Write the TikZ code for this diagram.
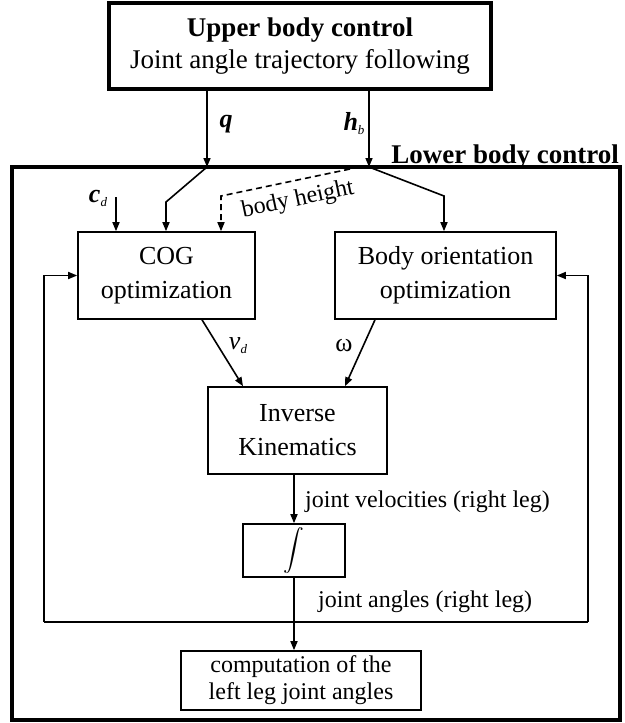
\documentclass[tikz,border=0pt]{standalone}
\usepackage{amsmath}
\usepackage{fontspec}
\setmainfont{Liberation Serif}
\usetikzlibrary{arrows.meta,calc}
\begin{document}
\begin{tikzpicture}[x=1pt,y=-1pt,
  box/.style={draw, line width=1.6pt, inner sep=0pt, align=center, font=\fontsize{26}{34}\selectfont},
  arr/.style={line width=1.6pt, -{Triangle[length=9pt,width=7pt]}},
  ln/.style={line width=1.6pt},
  lbl/.style={inner sep=0pt, font=\fontsize{24}{28}\selectfont},
  sym/.style={inner sep=0pt, font=\fontsize{26}{28}\selectfont},
]
\useasboundingbox (0,0) rectangle (624,723);
% frames
\node[draw, line width=4pt, minimum width=608pt, minimum height=553pt, inner sep=0pt] (lower) at (316,443.5) {};
\node[draw, line width=3.5pt, minimum width=382pt, minimum height=86pt, align=center, inner sep=0pt, font=\fontsize{27}{32}\selectfont] (upper) at (300,46) {\textbf{Upper body control}\\Joint angle trajectory following};
\node[anchor=base east, inner sep=0pt, font=\bfseries\fontsize{27}{30}\selectfont] (lowlbl) at (619,163) {Lower body control};
% blocks
\node[box, minimum width=177pt, minimum height=87pt] (cog) at (166.5,275.5) {COG\\optimization};
\node[box, minimum width=221pt, minimum height=87pt] (bo) at (445.5,275.5) {Body orientation\\optimization};
\node[box, minimum width=179pt, minimum height=87pt] (ik) at (297.5,430.5) {Inverse\\Kinematics};
\node[box, minimum width=102pt, minimum height=53pt, font=\fontsize{20}{22}\selectfont] (int) at (294,550.5) {$\displaystyle\int$};
\node[box, minimum width=240pt, minimum height=59pt, font=\fontsize{24}{27}\selectfont] (comp) at (301,680.5) {computation of the\\left leg joint angles};
% coordinates
\coordinate (qj) at (207,167);
\coordinate (hj) at (369,167);
\coordinate (qb) at (166,202);
\coordinate (hb) at (444,196);
\coordinate (ds) at (350,169);
\coordinate (db) at (221,196);
\coordinate (cd) at (116,197);
\coordinate (fl) at (44,622);
\coordinate (fr) at (588,622);
% upper to lower
\draw[arr] (upper.south -| qj) -- (qj);
\draw[arr] (upper.south -| hj) -- (hj);
\node[sym] (qlbl) at (226,124) {\textbf{\textit{q}}};
\node[sym] (hlbl) at (354,124) {\textbf{\textit{h}}\raisebox{-4pt}{\fontsize{13}{13}\selectfont\textit{b}}};
% inputs
\draw[arr] (qj) -- (qb) -- (qb |- cog.north);
\draw[arr] (hj) -- (hb) -- (hb |- bo.north);
\draw[arr, dash pattern=on 6pt off 4pt] (ds) -- (db) -- (db |- cog.north);
\node[lbl, rotate=12] (bh) at (298,200) {body height};
\draw[arr] (cd) -- (cd |- cog.north);
\node[sym] (cdl) at (98,198) {\textbf{\textit{c}}\raisebox{-4pt}{\fontsize{13}{13}\selectfont\textit{d}}};
% to IK
\draw[arr] ($(cog.south)+(35.5,0)$) -- ($(ik.north)+(-54.5,0)$);
\draw[arr] ($(bo.south)+(-70.5,0)$) -- ($(ik.north)+(47.5,0)$);
\node[sym] (vdl) at (238,346) {\textit{v}\raisebox{-4pt}{\fontsize{13}{13}\selectfont\textit{d}}};
\node[sym] (wl) at (344,346) {ω};
% IK to integral
\draw[arr] (int.north |- ik.south) -- (int.north);
\node[lbl, anchor=west] (jv) at (305,502) {joint velocities (right leg)};
% integral to computation and feedback
\draw[arr] (int.south) -- (int.south |- comp.north);
\node[lbl, anchor=west] (ja) at (318,602) {joint angles (right leg)};
\draw[ln] (fl) -- (fr);
\draw[arr] (fl) |- (cog.west);
\draw[arr] (fr) |- (bo.east);
\end{tikzpicture}
\end{document}
